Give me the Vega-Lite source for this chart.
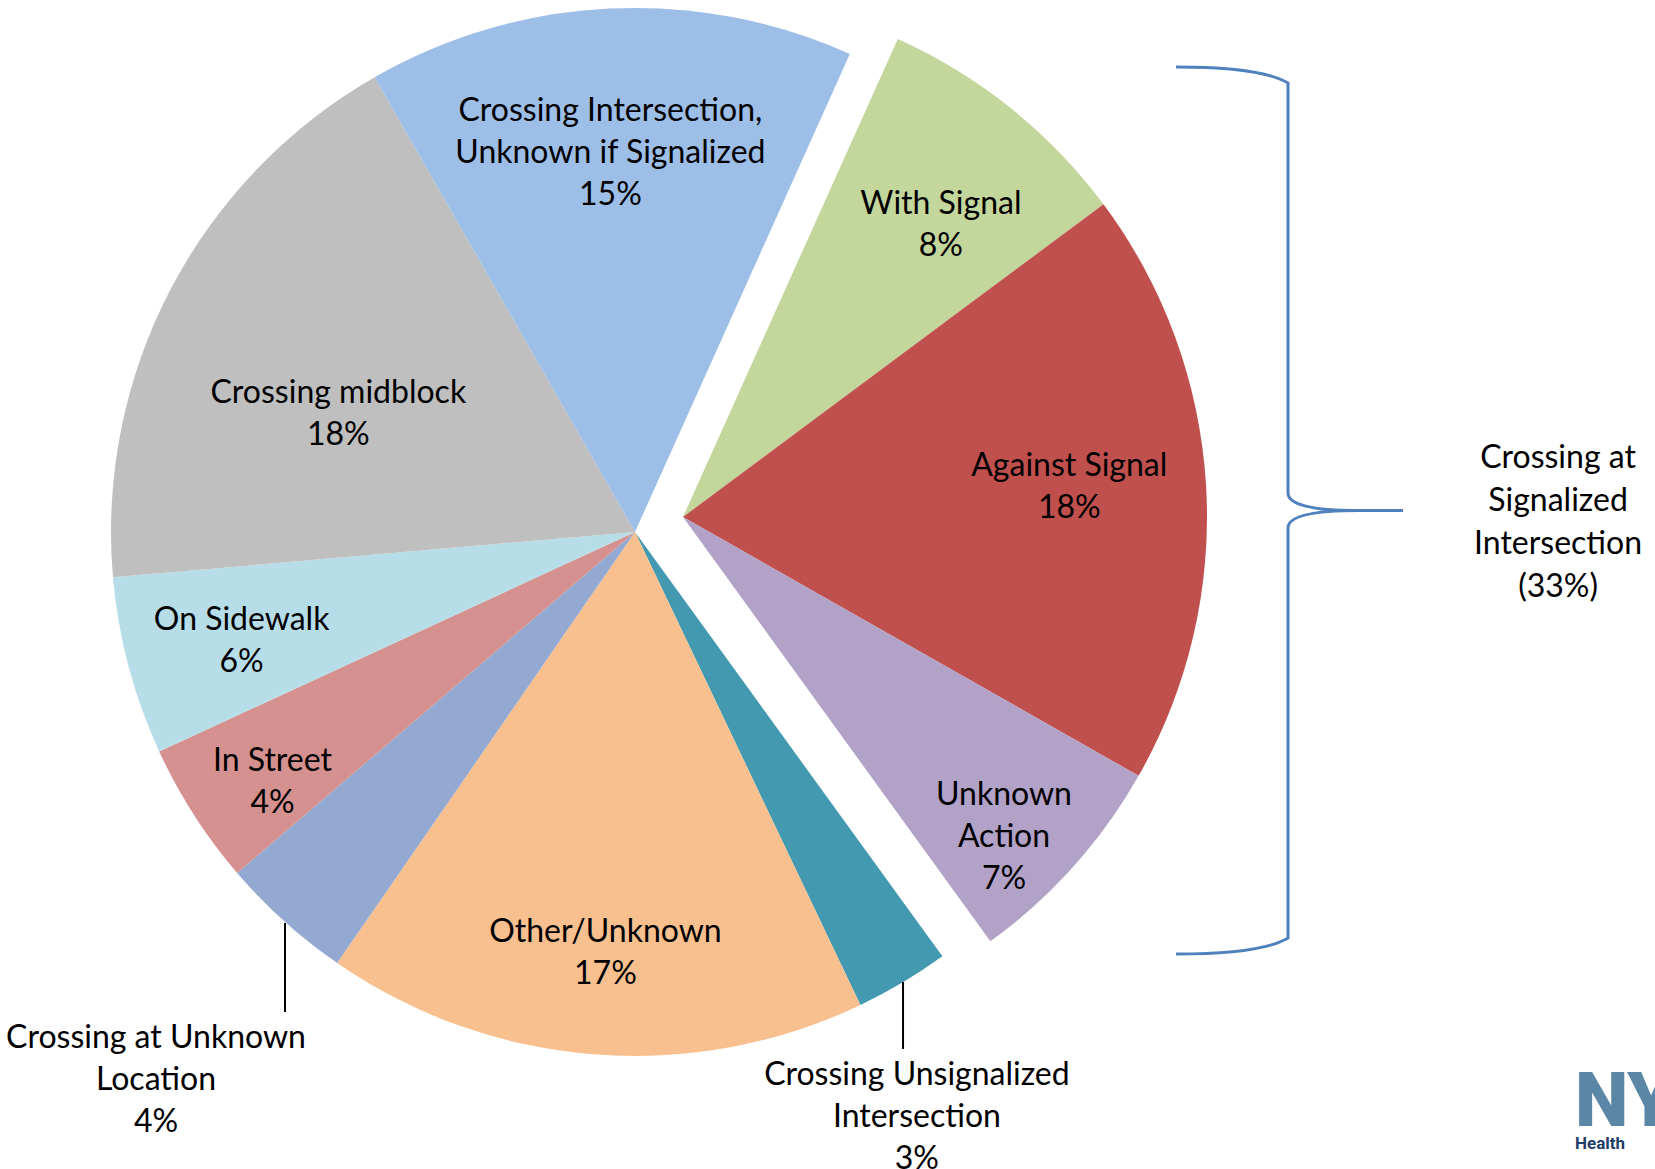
{
  "$schema": "https://vega.github.io/schema/vega-lite/v6.json",
  "width": 1270,
  "height": 1064,
  "autosize": {"type": "none"},
  "padding": {"left": 0, "top": 0, "right": 385, "bottom": 105},
  "background": "white",
  "config": {"view": {"stroke": null}, "text": {"font": "Lato", "fontSize": 32, "lineHeight": 42, "color": "#000000"}},
  "data": {"values": [
    {"idx": 1, "cat": "With Signal", "pct": 8.1, "grp": "sig", "label": "With Signal|8%"},
    {"idx": 2, "cat": "Against Signal", "pct": 18.4, "grp": "sig", "label": "Against Signal|18%"},
    {"idx": 3, "cat": "Unknown Action", "pct": 6.8, "grp": "sig", "label": "Unknown|Action|7%"},
    {"idx": 4, "cat": "Crossing Unsignalized Intersection", "pct": 2.9, "grp": "main", "label": "Crossing Unsignalized|Intersection|3%"},
    {"idx": 5, "cat": "Other/Unknown", "pct": 16.7, "grp": "main", "label": "Other/Unknown|17%"},
    {"idx": 6, "cat": "Crossing at Unknown Location", "pct": 4.1, "grp": "main", "label": "Crossing at Unknown|Location|4%"},
    {"idx": 7, "cat": "In Street", "pct": 4.4, "grp": "main", "label": "In Street|4%"},
    {"idx": 8, "cat": "On Sidewalk", "pct": 5.5, "grp": "main", "label": "On Sidewalk|6%"},
    {"idx": 9, "cat": "Crossing midblock", "pct": 18.1, "grp": "main", "label": "Crossing midblock|18%"},
    {"idx": 10, "cat": "Crossing Intersection, Unknown if Signalized", "pct": 15.0, "grp": "main", "label": "Crossing Intersection,|Unknown if Signalized|15%"}
  ]},
  "layer": [
    {
      "mark": {"type": "arc", "outerRadius": 524},
      "encoding": {
        "theta": {"field": "pct", "type": "quantitative", "stack": true, "scale": {"domain": [0, 100], "range": [0.4224, 6.7056]}},
        "order": {"field": "idx", "type": "quantitative"},
        "color": {"field": "cat", "type": "nominal", "legend": null, "scale": {
          "domain": ["With Signal", "Against Signal", "Unknown Action", "Crossing Unsignalized Intersection", "Other/Unknown", "Crossing at Unknown Location", "In Street", "On Sidewalk", "Crossing midblock", "Crossing Intersection, Unknown if Signalized"],
          "range": ["#C3D69B", "#C0504D", "#B2A2C7", "#4399B0", "#F9C08F", "#94A9D1", "#D4918F", "#B7DEE8", "#BFBFBF", "#9DBEE7"]}},
        "opacity": {"condition": {"test": "datum.grp === 'main'", "value": 1}, "value": 0}
      }
    },
    {
      "mark": {"type": "arc", "outerRadius": 524, "xOffset": 48, "yOffset": -15},
      "encoding": {
        "theta": {"field": "pct", "type": "quantitative", "stack": true, "scale": {"domain": [0, 100], "range": [0.4224, 6.7056]}},
        "order": {"field": "idx", "type": "quantitative"},
        "color": {"field": "cat", "type": "nominal", "legend": null},
        "opacity": {"condition": {"test": "datum.grp === 'sig'", "value": 1}, "value": 0}
      }
    },
    {
      "mark": {"type": "text", "radius": 381, "dx": -6, "dy": -40, "lineBreak": "|", "align": "center", "baseline": "middle"},
      "encoding": {
        "theta": {"field": "pct", "type": "quantitative", "stack": true, "scale": {"domain": [0, 100], "range": [0.4224, 6.7056]}},
        "order": {"field": "idx", "type": "quantitative"},
        "text": {"field": "label", "type": "nominal"},
        "opacity": {"condition": {"test": "datum.cat === 'Crossing Intersection, Unknown if Signalized'", "value": 1}, "value": 0}
      }
    },
    {
      "mark": {"type": "text", "radius": 319, "dx": -14, "dy": 9, "lineBreak": "|", "align": "center", "baseline": "middle"},
      "encoding": {
        "theta": {"field": "pct", "type": "quantitative", "stack": true, "scale": {"domain": [0, 100], "range": [0.4224, 6.7056]}},
        "order": {"field": "idx", "type": "quantitative"},
        "text": {"field": "label", "type": "nominal"},
        "opacity": {"condition": {"test": "datum.cat === 'Crossing midblock'", "value": 1}, "value": 0}
      }
    },
    {
      "mark": {"type": "text", "radius": 408, "dx": 1, "dy": -17, "lineBreak": "|", "align": "center", "baseline": "middle"},
      "encoding": {
        "theta": {"field": "pct", "type": "quantitative", "stack": true, "scale": {"domain": [0, 100], "range": [0.4224, 6.7056]}},
        "order": {"field": "idx", "type": "quantitative"},
        "text": {"field": "label", "type": "nominal"},
        "opacity": {"condition": {"test": "datum.cat === 'On Sidewalk'", "value": 1}, "value": 0}
      }
    },
    {
      "mark": {"type": "text", "radius": 439, "dx": 7, "dy": -8, "lineBreak": "|", "align": "center", "baseline": "middle"},
      "encoding": {
        "theta": {"field": "pct", "type": "quantitative", "stack": true, "scale": {"domain": [0, 100], "range": [0.4224, 6.7056]}},
        "order": {"field": "idx", "type": "quantitative"},
        "text": {"field": "label", "type": "nominal"},
        "opacity": {"condition": {"test": "datum.cat === 'In Street'", "value": 1}, "value": 0}
      }
    },
    {
      "mark": {"type": "text", "radius": 420, "dx": 4, "dy": -19, "lineBreak": "|", "align": "center", "baseline": "middle"},
      "encoding": {
        "theta": {"field": "pct", "type": "quantitative", "stack": true, "scale": {"domain": [0, 100], "range": [0.4224, 6.7056]}},
        "order": {"field": "idx", "type": "quantitative"},
        "text": {"field": "label", "type": "nominal"},
        "opacity": {"condition": {"test": "datum.cat === 'Other/Unknown'", "value": 1}, "value": 0}
      }
    },
    {
      "mark": {"type": "text", "radius": 391, "xOffset": 48, "yOffset": -15, "dx": 13, "dy": -8, "lineBreak": "|", "align": "center", "baseline": "middle"},
      "encoding": {
        "theta": {"field": "pct", "type": "quantitative", "stack": true, "scale": {"domain": [0, 100], "range": [0.4224, 6.7056]}},
        "order": {"field": "idx", "type": "quantitative"},
        "text": {"field": "label", "type": "nominal"},
        "opacity": {"condition": {"test": "datum.cat === 'With Signal'", "value": 1}, "value": 0}
      }
    },
    {
      "mark": {"type": "text", "radius": 387, "xOffset": 48, "yOffset": -15, "dx": 0, "dy": -27, "lineBreak": "|", "align": "center", "baseline": "middle"},
      "encoding": {
        "theta": {"field": "pct", "type": "quantitative", "stack": true, "scale": {"domain": [0, 100], "range": [0.4224, 6.7056]}},
        "order": {"field": "idx", "type": "quantitative"},
        "text": {"field": "label", "type": "nominal"},
        "opacity": {"condition": {"test": "datum.cat === 'Against Signal'", "value": 1}, "value": 0}
      }
    },
    {
      "mark": {"type": "text", "radius": 451, "xOffset": 48, "yOffset": -15, "dx": -15, "dy": -23, "lineBreak": "|", "align": "center", "baseline": "middle"},
      "encoding": {
        "theta": {"field": "pct", "type": "quantitative", "stack": true, "scale": {"domain": [0, 100], "range": [0.4224, 6.7056]}},
        "order": {"field": "idx", "type": "quantitative"},
        "text": {"field": "label", "type": "nominal"},
        "opacity": {"condition": {"test": "datum.cat === 'Unknown Action'", "value": 1}, "value": 0}
      }
    },
    {
      "transform": [{"filter": "datum.cat === 'Crossing at Unknown Location'"}],
      "mark": {"type": "text", "lineBreak": "|", "align": "center", "baseline": "middle"},
      "encoding": {
        "x": {"datum": -91.41, "type": "quantitative", "axis": null, "scale": {"domain": [-121.18, 121.18], "nice": false, "zero": false}},
        "y": {"datum": -96.6, "type": "quantitative", "axis": null, "scale": {"domain": [-101.53, 101.53], "nice": false, "zero": false}},
        "text": {"field": "label", "type": "nominal"}
      }
    },
    {
      "transform": [{"filter": "datum.cat === 'Crossing Unsignalized Intersection'"}],
      "mark": {"type": "text", "lineBreak": "|", "align": "center", "baseline": "middle"},
      "encoding": {
        "x": {"datum": 53.8, "type": "quantitative", "axis": null, "scale": {"domain": [-121.18, 121.18], "nice": false, "zero": false}},
        "y": {"datum": -103.7, "type": "quantitative", "axis": null, "scale": {"domain": [-101.53, 101.53], "nice": false, "zero": false}},
        "text": {"field": "label", "type": "nominal"}
      }
    },
    {
      "data": {"values": [{"leader": "Crossing at Unknown Location"}]},
      "mark": {"type": "rule", "color": "#000000", "strokeWidth": 2},
      "encoding": {
        "x": {"datum": -66.79, "type": "quantitative", "axis": null, "scale": {"domain": [-121.18, 121.18], "nice": false, "zero": false}},
        "y": {"datum": -74.62, "type": "quantitative", "axis": null, "scale": {"domain": [-101.53, 101.53], "nice": false, "zero": false}},
        "y2": {"datum": -91.6}
      }
    },
    {
      "data": {"values": [{"leader": "Crossing Unsignalized Intersection"}]},
      "mark": {"type": "rule", "color": "#000000", "strokeWidth": 2},
      "encoding": {
        "x": {"datum": 51.15, "type": "quantitative", "axis": null, "scale": {"domain": [-121.18, 121.18], "nice": false, "zero": false}},
        "y": {"datum": -85.88, "type": "quantitative", "axis": null, "scale": {"domain": [-101.53, 101.53], "nice": false, "zero": false}},
        "y2": {"datum": -98.66}
      }
    },
    {
      "data": {"values": [{"group": "Crossing at Signalized Intersection"}]},
      "mark": {"type": "point", "shape": "M -0.2525 -1 Q -0.06 -1 0 -0.9639 L 0 -0.0395 Q 0 0 0.16 0 L 0.2593 0 M 0.16 0 Q 0 0 0 0.0395 L 0 0.9639 Q -0.06 1 -0.2525 1", "size": 786769, "filled": false, "color": "#4F81BD", "strokeWidth": 3, "opacity": 1},
      "encoding": {
        "x": {"datum": 124.62, "type": "quantitative", "axis": null, "scale": {"domain": [-121.18, 121.18], "nice": false, "zero": false}},
        "y": {"datum": 4.1, "type": "quantitative", "axis": null, "scale": {"domain": [-101.53, 101.53], "nice": false, "zero": false}}
      }
    },
    {
      "data": {"values": [{"label": "Crossing at|Signalized|Intersection|(33%)"}]},
      "mark": {"type": "text", "lineBreak": "|", "lineHeight": 43, "align": "center", "baseline": "middle"},
      "encoding": {
        "x": {"datum": 176.15, "type": "quantitative", "axis": null, "scale": {"domain": [-121.18, 121.18], "nice": false, "zero": false}},
        "y": {"datum": 14.1, "type": "quantitative", "axis": null, "scale": {"domain": [-101.53, 101.53], "nice": false, "zero": false}},
        "text": {"field": "label", "type": "nominal"}
      }
    },
    {
      "data": {"values": [{"logo": "NY"}]},
      "mark": {"type": "text", "font": "Roboto", "fontWeight": 900, "fontSize": 76, "align": "left", "baseline": "alphabetic", "color": "#5B87A7"},
      "encoding": {
        "x": {"datum": 179.39, "type": "quantitative", "axis": null, "scale": {"domain": [-121.18, 121.18], "nice": false, "zero": false}},
        "y": {"datum": -113.36, "type": "quantitative", "axis": null, "scale": {"domain": [-101.53, 101.53], "nice": false, "zero": false}},
        "text": {"field": "logo", "type": "nominal"}
      }
    },
    {
      "data": {"values": [{"logo": "Health"}]},
      "mark": {"type": "text", "font": "Roboto", "fontWeight": "bold", "fontSize": 17, "align": "left", "baseline": "alphabetic", "color": "#1F3E68"},
      "encoding": {
        "x": {"datum": 179.39, "type": "quantitative", "axis": null, "scale": {"domain": [-121.18, 121.18], "nice": false, "zero": false}},
        "y": {"datum": -117.75, "type": "quantitative", "axis": null, "scale": {"domain": [-101.53, 101.53], "nice": false, "zero": false}},
        "text": {"field": "logo", "type": "nominal"}
      }
    }
  ]
}
